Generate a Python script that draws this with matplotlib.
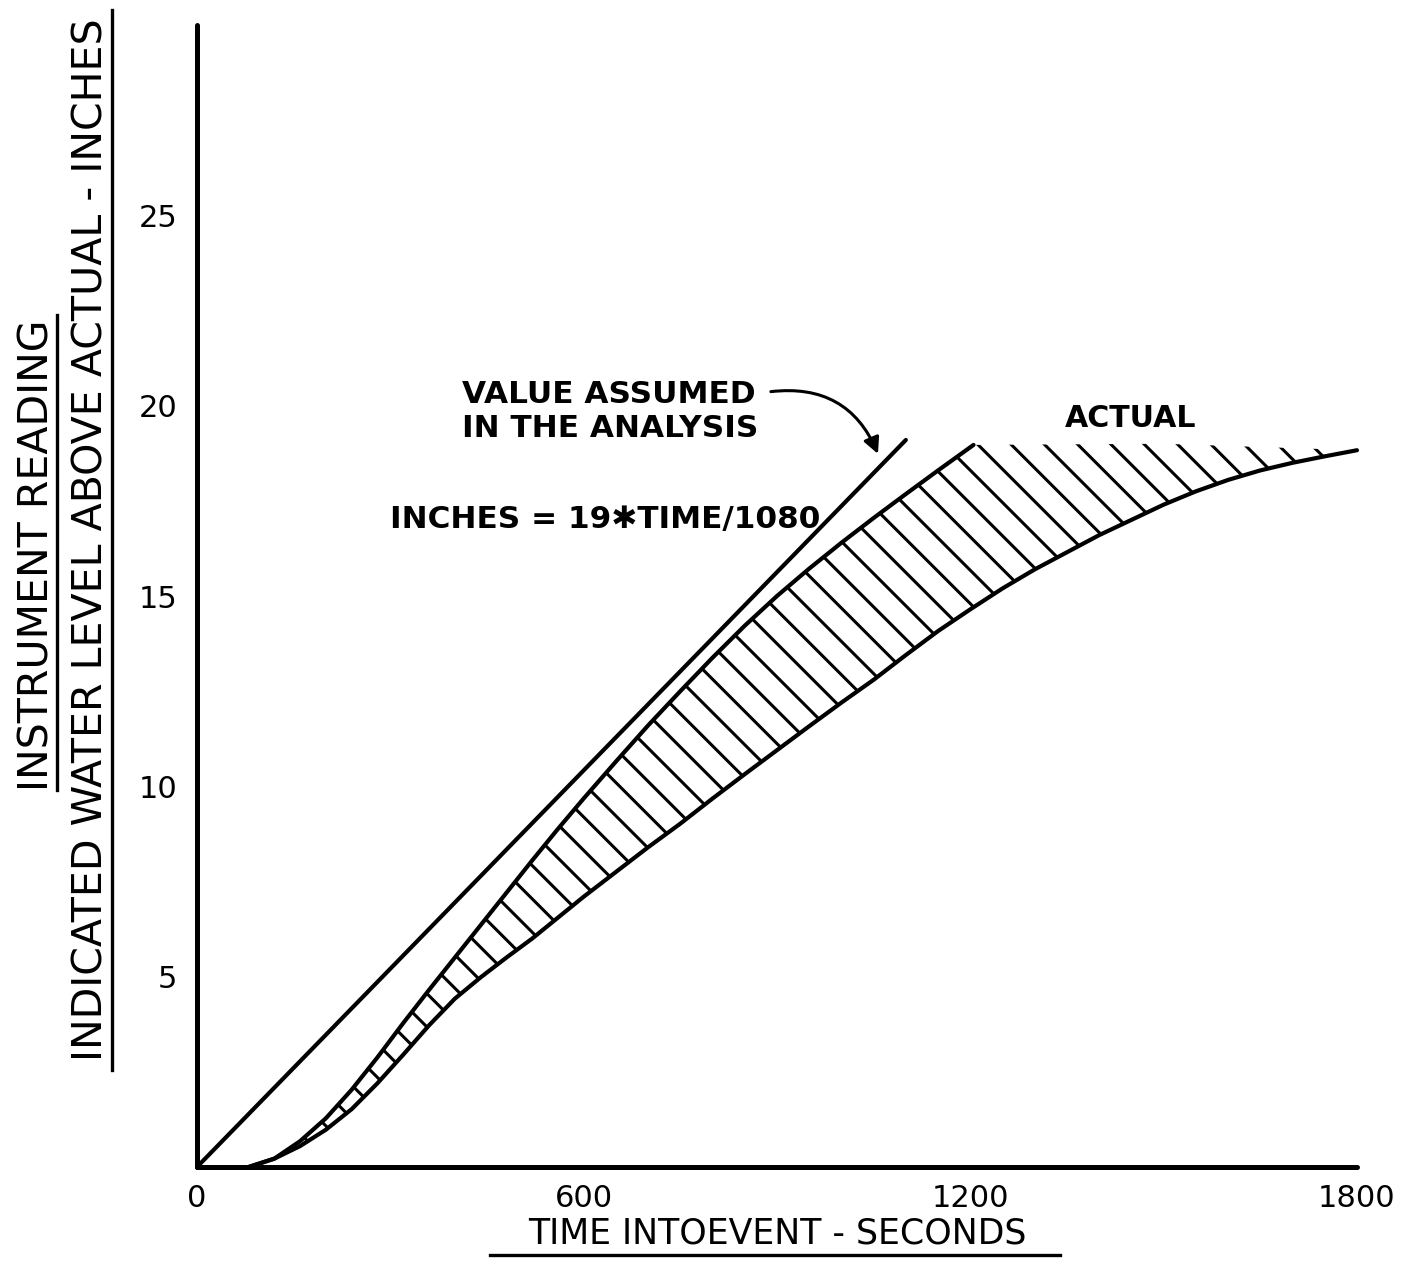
import numpy as np
import matplotlib.pyplot as plt
from matplotlib.lines import Line2D

# value assumed in the analysis (straight line)
assumed_time = [0, 1100]
assumed_inches = [0, 19.1]

# actual reading, lower edge of the band
actual_time = [80, 120, 160, 200, 240, 280, 320, 360, 400, 440, 480, 520, 560, 600, 650,
               700, 750, 800, 850, 900, 950, 1000, 1050, 1100, 1150, 1200, 1250, 1300,
               1350, 1400, 1450, 1500, 1550, 1600, 1650, 1700, 1750, 1800]
actual_inches = [0, 0.22, 0.55, 0.98, 1.52, 2.2, 2.95, 3.72, 4.42, 4.98, 5.5, 6.0, 6.55, 7.1, 7.75,
                 8.4, 9.02, 9.68, 10.32, 10.95, 11.58, 12.2, 12.8, 13.45, 14.08, 14.65, 15.2, 15.7,
                 16.15, 16.6, 17.0, 17.4, 17.75, 18.05, 18.3, 18.5, 18.67, 18.83]

# upper edge of the band (drawn part)
upper_time = [80, 120, 160, 200, 240, 280, 320, 360, 400, 440, 480, 520, 560, 600, 650,
              700, 750, 800, 850, 900, 950, 1000, 1050, 1100, 1150, 1205]
upper_inches = [0, 0.22, 0.68, 1.28, 2.03, 2.88, 3.78, 4.65, 5.5, 6.35, 7.2, 8.05, 8.88, 9.68, 10.65,
                11.6, 12.5, 13.38, 14.22, 15.0, 15.72, 16.4, 17.05, 17.68, 18.3, 18.97]

# hatching continues level past the end of the drawn edge
hatch_top_time = [1205, 1500, 1800]
hatch_top_inches = [18.97, 19.0, 18.83]

x_ticks = [0, 600, 1200, 1800]
x_labels = ['0', '600', '1200', '1800']
y_ticks = [5, 10, 15, 20, 25]
y_labels = ['5', '10', '15', '20', '25']

plt.rcParams['font.family'] = ['DejaVu Sans']
plt.rcParams['hatch.linewidth'] = 1.1

fig = plt.figure(figsize=(7.055, 6.42), dpi=200)
ax = fig.add_axes([0.1396, 0.0911, 0.8221, 0.8894])

# hatched band between the two edges
band_x = upper_time + hatch_top_time[1:] + actual_time[::-1]
band_y = upper_inches + hatch_top_inches[1:] + actual_inches[::-1]
ax.fill(band_x, band_y, facecolor='none', edgecolor='black', hatch='\\\\', linewidth=0)

lw = 1.5
ax.plot(assumed_time, assumed_inches, color='black', lw=lw, solid_capstyle='round', clip_on=False)
ax.plot(actual_time, actual_inches, color='black', lw=lw, solid_capstyle='round', clip_on=False)
ax.plot(upper_time, upper_inches, color='black', lw=lw, solid_capstyle='round', clip_on=False)

ax.set_xlim(0, 1800)
ax.set_ylim(0, 30)
ax.set_xticks(x_ticks, x_labels)
ax.set_yticks(y_ticks, y_labels)
ax.tick_params(length=0, labelsize=11)
ax.tick_params(axis='x', pad=6)
ax.tick_params(axis='y', pad=7)

for side in ['top', 'right']:
    ax.spines[side].set_visible(False)
for side in ['left', 'bottom']:
    ax.spines[side].set_linewidth(1.8)
    ax.spines[side].set_capstyle('round')

# annotations
ax.text(411, 19.85, 'VALUE ASSUMED\nIN THE ANALYSIS', fontsize=11.2, fontweight='bold',
        ha='left', va='center', linespacing=1.25)
ax.annotate('', xy=(1060, 18.6), xytext=(882, 20.35),
            arrowprops=dict(arrowstyle='-|>', color='black', lw=1.1,
                            connectionstyle='arc3,rad=-0.4', mutation_scale=12))
ax.text(300, 17.0, 'INCHES = 19\u2731TIME/1080', fontsize=11.2, fontweight='bold',
        ha='left', va='center')
ax.text(1449, 19.67, 'ACTUAL', fontsize=10.8, fontweight='bold', ha='center', va='center')

# axis titles, underlined as in the original
fig.text(777 / 1411, 1 - 1234 / 1284, 'TIME INTOEVENT - SECONDS', fontsize=12.5,
         ha='center', va='center')
fig.add_artist(Line2D([490 / 1411, 1060 / 1411], [1 - 1255 / 1284] * 2, color='black', lw=1.2))

fig.text(38 / 1411, 1 - 555 / 1284, 'INSTRUMENT READING', fontsize=14.8, rotation=90,
         ha='center', va='center')
fig.add_artist(Line2D([57 / 1411] * 2, [1 - 790 / 1284, 1 - 315 / 1284], color='black', lw=1.2))

fig.text(92 / 1411, 1 - 540 / 1284, 'INDICATED WATER LEVEL ABOVE ACTUAL - INCHES', fontsize=14.8,
         rotation=90, ha='center', va='center')
fig.add_artist(Line2D([112 / 1411] * 2, [1 - 1070 / 1284, 1 - 10 / 1284], color='black', lw=1.2))

fig.savefig('out.png', dpi=200)
